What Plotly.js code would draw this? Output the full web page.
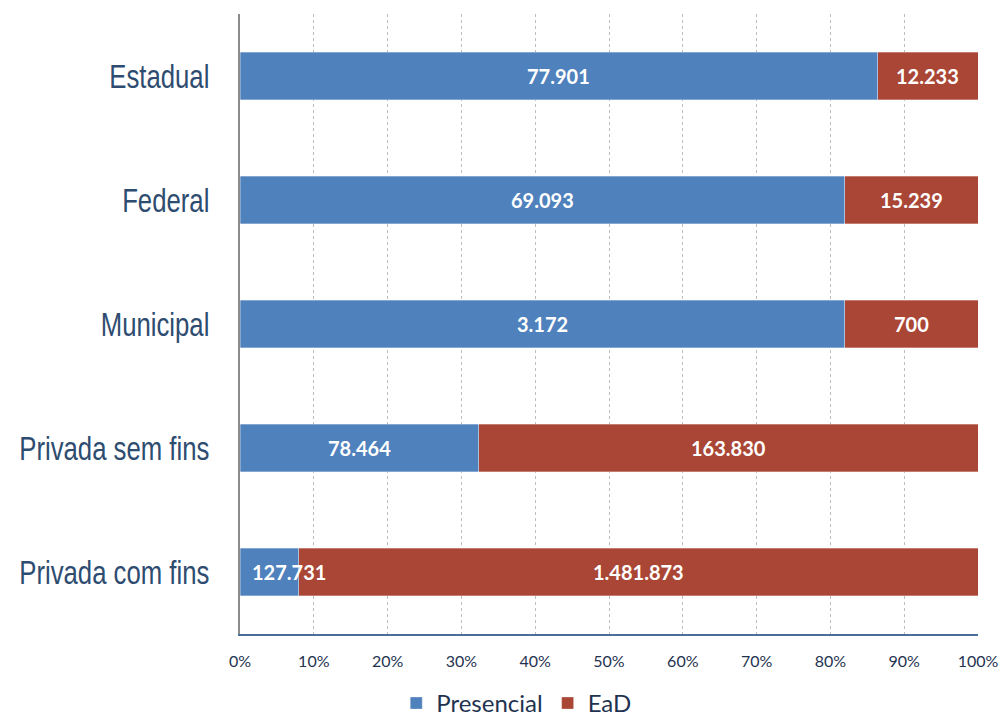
<!DOCTYPE html>
<html>
<head>
<meta charset="utf-8">
<script src="https://cdn.plot.ly/plotly-3.0.1.min.js"></script>
<style>html,body{margin:0;padding:0;background:#fff;}#chart{width:1002px;height:720px;}</style>
</head>
<body>
<div id="chart"></div>
<script>
const categories = ["Estadual", "Federal", "Municipal", "Privada sem fins", "Privada com fins"];
const presencial = [77901, 69093, 3172, 78464, 127731];
const ead = [12233, 15239, 700, 163830, 1481873];
const seriesNames = ["Presencial", "EaD"];
const xTicks = [0,10,20,30,40,50,60,70,80,90,100];

function fmt(n){
  return String(n).replace(/\B(?=(\d{3})+(?!\d))/g, ".");
}

const colors = ["#4F81BD", "#AA4635"];
const traces = [presencial, ead].map((vals, i) => ({
  type: "bar",
  orientation: "h",
  name: seriesNames[i],
  y: categories,
  x: vals,
  width: 0.387,
  marker: {color: colors[i], line: {color: "rgba(255,255,255,0.5)", width: 0.6}},
  hoverinfo: "none"
}));

// labels centred on each segment (percent of the row total)
const annotations = [];
categories.forEach((c, k) => {
  const tot = presencial[k] + ead[k];
  const p = presencial[k] / tot * 100;
  const segs = [[0, p, presencial[k]], [p, 100, ead[k]]];
  segs.forEach(([a, b, v]) => {
    const mid = (a + b) / 2;
    const narrow = (b - a) < 12;
    annotations.push({
      x: narrow ? a : mid, y: c, xref: "x", yref: "y",
      text: "<b>" + fmt(v) + "</b>", showarrow: false,
      xanchor: narrow ? "left" : "center", xshift: narrow ? 10 : 0,
      font: {family: "Lato, 'Open Sans', sans-serif", size: 20, color: "#ffffff"}
    });
  });
});

const layout = {
  width: 1002, height: 720,
  margin: {l: 240, r: 24, t: 14, b: 86, autoexpand: false},
  paper_bgcolor: "#ffffff", plot_bgcolor: "rgba(0,0,0,0)",
  barmode: "stack", barnorm: "percent",
  showlegend: true,
  legend: {orientation: "h", x: 0.375, xanchor: "center", y: -0.112, yanchor: "middle",
           font: {family: "Lato, 'Open Sans', sans-serif", size: 24, color: "#1F3350"},
           itemwidth: 30, traceorder: "normal"},
  xaxis: {range: [0, 100], tickvals: xTicks, ticktext: xTicks.map(v => v + "%"),
          showgrid: true, gridcolor: "#BDBDBD", griddash: "dot", gridwidth: 1,
          zeroline: false, showline: true, linecolor: "#4A6D9C", linewidth: 1.5,
          ticks: "", ticklabelstandoff: 12,
          tickfont: {family: "Lato, 'Open Sans', sans-serif", size: 16, color: "#1F3350"}},
  yaxis: {categoryorder: "array", categoryarray: categories, autorange: "reversed",
          showgrid: false, zeroline: false, showline: true, linecolor: "#8C8C8C", linewidth: 2,
          ticks: "", ticklabelstandoff: 22,
          tickfont: {family: "'Liberation Sans', Arial, sans-serif", size: 33, color: "#2E4C70"}},
  annotations: annotations
};

Plotly.newPlot("chart", traces, layout, {displayModeBar: false, staticPlot: true}).then(gd => {
  // condense the category labels horizontally, keeping their right edge fixed
  gd.querySelectorAll(".ytick text").forEach(el => {
    const x = parseFloat(el.getAttribute("x") || "0");
    const tr = el.getAttribute("transform") || "";
    const m = /translate\(\s*([-\d.e]+)/.exec(tr);
    const pivot = x + (m ? parseFloat(m[1]) : 0);
    el.setAttribute("transform", `translate(${pivot},0) scale(0.78,1) translate(${-pivot},0) ${tr}`);
  });
});
</script>
</body>
</html>
